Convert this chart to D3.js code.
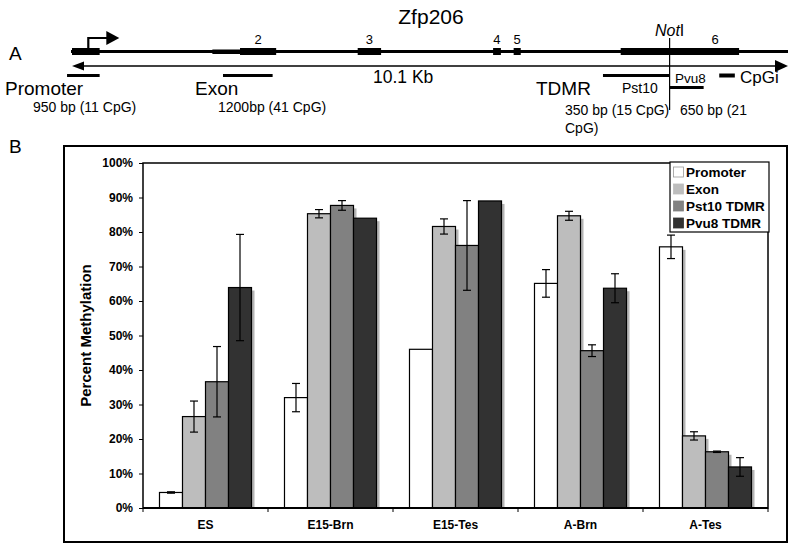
<!DOCTYPE html>
<html><head><meta charset="utf-8">
<script src="https://cdn.jsdelivr.net/npm/d3@7"></script>
<style>body{margin:0;background:#fff}svg{display:block}text{font-family:"Liberation Sans",Arial,Helvetica,sans-serif}</style>
</head><body>
<script>
const categories = ["ES","E15-Brn","E15-Tes","A-Brn","A-Tes"];
const seriesNames = ["Promoter","Exon","Pst10 TDMR","Pvu8 TDMR"];
const promoter = [4.5, 32.0, 46.0, 65.1, 75.7];
const promoterErr = [0.2, 4.1, 0, 4.0, 3.4];
const exon = [26.5, 85.3, 81.6, 84.7, 20.9];
const exonErr = [4.5, 1.2, 2.2, 1.3, 1.2];
const pst10 = [36.6, 87.7, 76.1, 45.6, 16.3];
const pst10Err = [10.2, 1.4, 13.0, 1.7, 0.2];
const pvu8 = [63.9, 84.0, 89.0, 63.7, 11.9];
const pvu8Err = [15.4, 0, 0, 4.2, 2.7];
const yTicks = [0,10,20,30,40,50,60,70,80,90,100];
const colors = ["#ffffff","#bdbdbd","#818181","#323232"];

// gene diagram features (kb along the 10.1 kb locus)
const locusKb = 10.1;
const exons = [{n:"",s:0,e:0.39},{n:"2",s:2.37,e:2.88},{n:"3",s:4.03,e:4.36},{n:"4",s:5.94,e:6.05},{n:"5",s:6.23,e:6.33},{n:"6",s:7.74,e:9.41}];
const regions = [{s:-0.07,e:0.39,row:0},{s:2.13,e:2.83,row:0},{s:7.49,e:8.43,row:0},{s:8.43,e:8.91,row:1},{s:9.13,e:9.35,row:0,cpg:true}];
const notIKb = 8.43, tssKb = 0.23;

const W=800,H=554;
const svg = d3.select("body").append("svg").attr("width",W).attr("height",H);

// ---------- Panel A ----------
const gx = d3.scaleLinear().domain([0,locusKb]).range([72,788]);
const A = svg.append("g");
A.append("text").attr("x",9).attr("y",60).attr("font-size",19).text("A");
A.append("text").attr("x",431).attr("y",24).attr("font-size",21).attr("text-anchor","middle").text("Zfp206");
// main line
A.append("line").attr("x1",gx(0)-1).attr("x2",gx(locusKb)).attr("y1",51.5).attr("y2",51.5).attr("stroke","#000").attr("stroke-width",3);
A.append("rect").attr("x",gx(1.98)).attr("width",gx(2.37)-gx(1.98)).attr("y",49.5).attr("height",4.5).attr("fill","#000");
exons.forEach(ex=>{
  A.append("rect").attr("x",gx(ex.s)).attr("y",48).attr("width",gx(ex.e)-gx(ex.s)).attr("height",7).attr("fill","#000");
  if(ex.n) A.append("text").attr("x",ex.n==="6"?715:(gx(ex.s)+gx(ex.e))/2).attr("y",44).attr("font-size",13).attr("text-anchor","middle").text(ex.n);
});
// TSS arrow
A.append("path").attr("d",`M${gx(tssKb)},50 V38 H${gx(tssKb)+19}`).attr("fill","none").attr("stroke","#000").attr("stroke-width",2.2);
A.append("path").attr("d",`M${gx(tssKb)+18},31 L${gx(tssKb)+31},38 L${gx(tssKb)+18},45 Z`).attr("fill","#000");
// double arrow 10.1 kb
A.append("line").attr("x1",gx(0)+8).attr("x2",gx(locusKb)-8).attr("y1",66).attr("y2",66).attr("stroke","#000").attr("stroke-width",1.5);
A.append("path").attr("d",`M${gx(0)},66 L${gx(0)+12},61.5 L${gx(0)+12},70.5 Z`).attr("fill","#000");
A.append("path").attr("d",`M${gx(locusKb)},66 L${gx(locusKb)-13},60 L${gx(locusKb)-13},72 Z`).attr("fill","#000");
A.append("text").attr("x",373).attr("y",83).attr("font-size",17.5).text("10.1 Kb");
// region bars
regions.forEach(r=>{
  A.append("line").attr("x1",gx(r.s)).attr("x2",gx(r.e)).attr("y1",r.row?87.5:75.5).attr("y2",r.row?87.5:75.5).attr("stroke","#000").attr("stroke-width",r.cpg?4:3);
});
// NotI
A.append("line").attr("x1",gx(notIKb)).attr("x2",gx(notIKb)).attr("y1",38).attr("y2",110).attr("stroke","#000").attr("stroke-width",1.2);
const nt = A.append("text").attr("x",gx(notIKb)).attr("y",36).attr("font-size",16).attr("text-anchor","middle");
nt.append("tspan").attr("font-style","italic").text("Not");
nt.append("tspan").text("I");
// labels
A.append("text").attr("x",5).attr("y",95).attr("font-size",19).text("Promoter");
A.append("text").attr("x",33).attr("y",112).attr("font-size",14).text("950 bp (11 CpG)");
A.append("text").attr("x",195).attr("y",95).attr("font-size",19).text("Exon");
A.append("text").attr("x",536).attr("y",95).attr("font-size",19).text("TDMR");
A.append("text").attr("x",218).attr("y",112).attr("font-size",14).text("1200bp (41 CpG)");
A.append("text").attr("x",622).attr("y",93).attr("font-size",14).text("Pst10");
A.append("text").attr("x",675).attr("y",83).attr("font-size",13.5).text("Pvu8");
A.append("text").attr("x",740).attr("y",83).attr("font-size",17).text("CpGi");
A.append("text").attr("x",565).attr("y",115).attr("font-size",14).text("350 bp (15 CpG)");
A.append("text").attr("x",565).attr("y",133).attr("font-size",14).text("CpG)");
A.append("text").attr("x",680).attr("y",115).attr("font-size",14).text("650 bp (21");

// ---------- Panel B ----------
svg.append("text").attr("x",9).attr("y",153).attr("font-size",19).text("B");
svg.append("rect").attr("x",64).attr("y",146).attr("width",723).attr("height",396).attr("fill","none").attr("stroke","#000").attr("stroke-width",2);

const L=143,T=163,R=768,Bt=508;
const x0 = d3.scaleBand().domain(categories).range([L,R]).paddingInner(0).paddingOuter(0);
const x1 = d3.scaleBand().domain(seriesNames).range([0,x0.bandwidth()]).paddingInner(0).paddingOuter(0.717);
const y = d3.scaleLinear().domain([0,100]).range([Bt,T]);

const vals = [promoter, exon, pst10, pvu8];
const errs = [promoterErr, exonErr, pst10Err, pvu8Err];
const data = [];
categories.forEach((c,i)=>seriesNames.forEach((s,j)=>data.push({c,s,j,v:vals[j][i],e:errs[j][i]})));

const plot = svg.append("g");
// shadows
plot.selectAll("rect.sh").data(data).join("rect").attr("class","sh")
  .attr("x",d=>x0(d.c)+x1(d.s)+3).attr("y",d=>y(d.v)+3)
  .attr("width",x1.bandwidth()).attr("height",d=>Math.max(0,Bt-y(d.v)-3)).attr("fill","#b4b4b4");
plot.selectAll("rect.bar").data(data).join("rect").attr("class","bar")
  .attr("x",d=>x0(d.c)+x1(d.s)).attr("y",d=>y(d.v))
  .attr("width",x1.bandwidth()).attr("height",d=>Bt-y(d.v))
  .attr("fill",d=>colors[d.j]).attr("stroke","#000").attr("stroke-width",1.2);
// error bars
const eb = plot.selectAll("g.eb").data(data.filter(d=>d.e>0)).join("g").attr("class","eb")
  .attr("transform",d=>`translate(${x0(d.c)+x1(d.s)+x1.bandwidth()/2},0)`);
eb.append("line").attr("y1",d=>y(d.v+d.e)).attr("y2",d=>y(d.v-d.e)).attr("stroke","#000").attr("stroke-width",1.2);
eb.append("line").attr("x1",-4).attr("x2",4).attr("y1",d=>y(d.v+d.e)).attr("y2",d=>y(d.v+d.e)).attr("stroke","#000").attr("stroke-width",1.2);
eb.append("line").attr("x1",-4).attr("x2",4).attr("y1",d=>y(d.v-d.e)).attr("y2",d=>y(d.v-d.e)).attr("stroke","#000").attr("stroke-width",1.2);

// plot frame
svg.append("rect").attr("x",L).attr("y",T).attr("width",R-L).attr("height",Bt-T).attr("fill","none").attr("stroke","#000").attr("stroke-width",1.5);
svg.append("line").attr("x1",L).attr("x2",R).attr("y1",Bt).attr("y2",Bt).attr("stroke","#000").attr("stroke-width",2);

// y axis
const yAxis = svg.append("g").attr("transform",`translate(${L},0)`)
  .call(d3.axisLeft(y).tickValues(yTicks).tickFormat(d=>d+"%").tickSize(4).tickPadding(6));
yAxis.select(".domain").remove();
yAxis.selectAll("text").attr("font-size",12).attr("font-weight","bold").attr("font-family","Liberation Sans,Arial,sans-serif");
// x axis
const xAxis = svg.append("g").attr("transform",`translate(0,${Bt})`)
  .call(d3.axisBottom(x0).tickSize(0).tickPadding(12));
xAxis.select(".domain").remove();
xAxis.selectAll("text").attr("font-size",12).attr("font-weight","bold").attr("font-family","Liberation Sans,Arial,sans-serif");
const bounds = categories.map(c=>x0(c)).concat([R]);
svg.selectAll("line.xt").data(bounds).join("line").attr("class","xt")
  .attr("x1",d=>d).attr("x2",d=>d).attr("y1",Bt).attr("y2",Bt+4).attr("stroke","#000");

svg.append("text").attr("transform",`translate(91,${(T+Bt)/2}) rotate(-90)`).attr("text-anchor","middle")
  .attr("font-size",15).attr("font-weight","bold").text("Percent Methylation");

// legend
const lg = svg.append("g");
lg.append("rect").attr("x",670).attr("y",162).attr("width",99).attr("height",70).attr("fill","#fff").attr("stroke","#000").attr("stroke-width",1.2);
seriesNames.forEach((s,j)=>{
  const cy = 172 + j*17;
  lg.append("rect").attr("x",673.5).attr("y",cy-5).attr("width",10).attr("height",10).attr("fill",colors[j]).attr("stroke",j===0?"#999":colors[j]).attr("stroke-width",0.8);
  lg.append("text").attr("x",686).attr("y",cy+4.5).attr("font-size",13.5).attr("font-weight","bold").text(s);
});
</script>
</body></html>
